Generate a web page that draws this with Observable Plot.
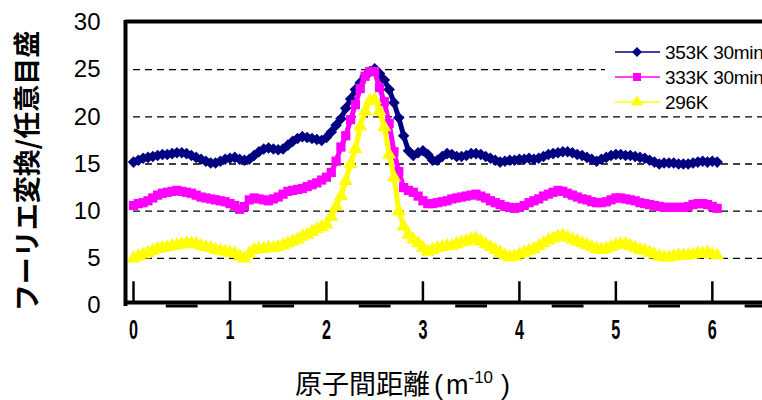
<!DOCTYPE html>
<html>
<head>
<meta charset="utf-8">
<script src="https://cdn.jsdelivr.net/npm/d3@7"></script>
<script src="https://cdn.jsdelivr.net/npm/@observablehq/plot@0.6"></script>
<style>
  html, body { margin: 0; padding: 0; background: white; }
  #chart { width: 762px; height: 400px; }
</style>
</head>
<body>
<div id="chart"></div>
<script>
// ---- data ----
const distance = [
  0.00,0.05,0.10,0.15,0.20,0.25,0.30,0.35,0.40,0.45,
  0.50,0.55,0.60,0.65,0.70,0.75,0.80,0.85,0.90,0.95,
  1.00,1.05,1.10,1.15,1.20,1.25,1.30,1.35,1.40,1.45,
  1.50,1.55,1.60,1.65,1.70,1.75,1.80,1.85,1.90,1.95,
  2.00,2.05,2.10,2.15,2.20,2.25,2.30,2.35,2.40,2.45,
  2.50,2.55,2.60,2.65,2.70,2.75,2.80,2.85,2.90,2.95,
  3.00,3.05,3.10,3.15,3.20,3.25,3.30,3.35,3.40,3.45,
  3.50,3.55,3.60,3.65,3.70,3.75,3.80,3.85,3.90,3.95,
  4.00,4.05,4.10,4.15,4.20,4.25,4.30,4.35,4.40,4.45,
  4.50,4.55,4.60,4.65,4.70,4.75,4.80,4.85,4.90,4.95,
  5.00,5.05,5.10,5.15,5.20,5.25,5.30,5.35,5.40,5.45,
  5.50,5.55,5.60,5.65,5.70,5.75,5.80,5.85,5.90,5.95,
  6.00,6.05
];
const s353K = [
  15.2,15.4,15.6,15.7,15.8,15.9,16.0,16.0,16.1,16.2,
  16.2,16.1,15.9,15.7,15.5,15.3,15.1,15.1,15.3,15.5,
  15.6,15.7,15.5,15.4,15.5,15.9,16.3,16.6,16.7,16.6,
  16.5,16.6,17.0,17.4,17.7,17.9,17.8,17.7,17.6,17.5,
  17.8,18.4,19.1,19.8,20.9,21.9,22.9,23.6,24.3,24.8,
  25.1,24.6,23.9,22.9,21.5,19.9,18.0,16.4,15.9,16.2,
  16.4,16.0,15.4,15.4,15.8,16.1,16.0,15.8,15.8,15.9,
  16.1,16.1,16.0,15.8,15.6,15.4,15.2,15.3,15.4,15.4,
  15.5,15.5,15.6,15.5,15.6,15.8,16.0,16.1,16.2,16.3,
  16.3,16.2,16.0,15.9,15.7,15.5,15.3,15.5,15.7,15.9,
  16.0,16.0,15.9,15.9,15.8,15.7,15.6,15.4,15.2,15.0,
  15.1,15.1,15.1,15.0,15.0,15.0,15.1,15.2,15.3,15.2,
  15.3,15.2
];
const s333K = [
  10.6,10.8,10.9,11.1,11.4,11.7,11.9,12.0,12.1,12.2,
  12.1,12.0,11.9,11.7,11.5,11.4,11.3,11.2,11.1,11.0,
  10.8,10.6,10.2,10.5,11.2,11.4,11.3,11.2,11.1,11.3,
  11.5,11.8,12.1,12.2,12.3,12.4,12.6,12.8,13.0,13.3,
  13.6,14.1,15.3,16.8,18.0,19.7,21.3,23.0,24.3,24.8,
  24.8,23.1,21.6,19.3,16.3,14.2,12.5,12.2,12.0,11.6,
  11.1,10.8,10.8,10.9,11.0,11.1,11.3,11.4,11.5,11.6,
  11.7,11.8,11.6,11.4,11.1,10.9,10.7,10.5,10.4,10.3,
  10.4,10.6,10.9,11.1,11.3,11.6,11.8,12.0,12.2,12.1,
  11.9,11.7,11.5,11.3,11.2,11.0,10.9,10.9,11.0,11.2,
  11.4,11.4,11.3,11.2,11.1,10.9,10.8,10.7,10.6,10.5,
  10.4,10.4,10.4,10.4,10.4,10.5,10.7,10.8,10.8,10.7,
  10.5,10.3
];
const s296K = [
  5.0,5.2,5.4,5.6,5.8,6.0,6.1,6.2,6.3,6.4,
  6.5,6.6,6.6,6.5,6.3,6.2,6.1,5.9,5.8,5.7,
  5.6,5.5,5.2,5.0,5.5,5.9,6.0,6.0,6.1,6.1,
  6.2,6.4,6.6,6.8,7.0,7.3,7.5,7.8,8.1,8.3,
  8.6,9.4,10.5,11.6,13.2,15.0,16.6,19.0,20.6,21.7,
  21.8,20.6,18.9,16.0,13.6,10.0,8.4,7.5,7.0,6.6,
  6.1,5.7,5.9,6.1,6.2,6.3,6.3,6.5,6.7,6.8,
  7.0,7.1,6.8,6.5,6.2,5.9,5.6,5.3,5.1,5.2,
  5.4,5.6,5.8,6.0,6.3,6.6,6.9,7.1,7.3,7.4,
  7.2,7.0,6.8,6.6,6.4,6.2,6.0,5.9,6.0,6.2,
  6.4,6.5,6.5,6.3,6.1,5.9,5.8,5.6,5.4,5.2,
  5.1,5.1,5.2,5.3,5.3,5.3,5.4,5.5,5.5,5.6,
  5.4,5.3
];
const seriesNames = ["353K 30min", "333K 30min", "296K"];
const seriesColors = ["#000080", "#FF00FF", "#FFFF00"];
const seriesSymbols = ["diamond2", "square", "triangle"];
const xTicks = [0, 1, 2, 3, 4, 5, 6];
const yTicks = [0, 5, 10, 15, 20, 25, 30];
const gridLines = [5, 10, 15, 20, 25];
const minorMarks = [0.5, 1.5, 2.5, 3.5, 4.5, 5.5, 6.5];
const xTitle = "原子間距離";
const yTitle = "フーリエ変換/任意目盛";

// ---- build table ----
const allSeries = [s353K, s333K, s296K];
const rows = allSeries.map((vals, i) =>
  vals.map((v, j) => ({x: distance[j], y: v, series: seriesNames[i]}))
);

const xMin = -0.083, xMax = 6.52;

const seriesMarks = [];
rows.forEach((r, i) => {
  seriesMarks.push(Plot.line(r, {x: "x", y: "y", stroke: seriesColors[i], strokeWidth: 5}));
  seriesMarks.push(Plot.dot(r, {x: "x", y: "y", symbol: seriesSymbols[i], fill: seriesColors[i], r: 5.2}));
});

const chart = Plot.plot({
  width: 762,
  height: 400,
  marginLeft: 125,
  marginRight: 0,
  marginTop: 22,
  marginBottom: 95,
  style: {background: "white", fontFamily: "'Liberation Sans', Arial, sans-serif", color: "black"},
  x: {domain: [xMin, xMax], axis: null},
  y: {domain: [0, 30], axis: null},
  marks: [
    Plot.ruleY(gridLines, {x1: 0, x2: xMax, stroke: "black", strokeWidth: 1.4, strokeDasharray: "7,5"}),
    ...seriesMarks,
    Plot.ruleX(xTicks, {y1: 0, y2: 2.2, stroke: "black", strokeWidth: 2.5, dy: -3}),
    Plot.ruleY([0], {stroke: "black", strokeWidth: 4, dy: -3}),
    Plot.ruleY(minorMarks, {y: 0, x1: d => d - 0.16, x2: d => d + 0.17, stroke: "black", strokeWidth: 3, dy: 0.5}),
    Plot.ruleY([30], {stroke: "black", strokeWidth: 4, dy: -1}),
    Plot.ruleX([xMin], {stroke: "black", strokeWidth: 4, y1: -0.1, y2: 30.2}),
    Plot.axisX(xTicks, {tickSize: 0, tickPadding: 14, fontSize: 27, fontWeight: "bold", label: null}),
    Plot.axisY(yTicks, {tickSize: 0, tickPadding: 25, fontSize: 24, label: null})
  ]
});

document.getElementById("chart").appendChild(chart);

const svg = d3.select(chart);

// condensed x tick labels
svg.selectAll('g[aria-label="x-axis tick label"] text').each(function() {
  const t = this.getAttribute("transform");
  if (t) {
    this.setAttribute("transform", t + " scale(0.6,1)");
  } else {
    const x = this.getAttribute("x") || 0, y = this.getAttribute("y") || 0;
    this.removeAttribute("x"); this.removeAttribute("y");
    this.setAttribute("transform", `translate(${x},${y}) scale(0.6,1)`);
  }
});

// legend
const lg = svg.append("g").attr("text-anchor", "start");
lg.append("rect").attr("x", 605).attr("y", 38).attr("width", 157).attr("height", 74).attr("fill", "white");
const symbolTypes = [d3.symbolDiamond2, d3.symbolSquare, d3.symbolTriangle];
seriesNames.forEach((name, i) => {
  const cy = 52 + i * 25;
  lg.append("line").attr("x1", 615).attr("x2", 660).attr("y1", cy).attr("y2", cy)
    .attr("stroke", seriesColors[i]).attr("stroke-width", 1.6);
  lg.append("path").attr("d", d3.symbol(symbolTypes[i], 64)())
    .attr("transform", `translate(637,${cy})`).attr("fill", seriesColors[i]);
  lg.append("text").attr("x", 665).attr("y", cy + 6.5).text(name)
    .attr("text-anchor", "start")
    .attr("font-size", 19).attr("fill", "black")
    .attr("letter-spacing", -0.3)
    .attr("font-family", "'Liberation Sans', Arial, sans-serif");
});

// y title
svg.append("text")
  .attr("transform", "translate(25,171) rotate(-90)")
  .attr("text-anchor", "middle")
  .attr("dominant-baseline", "central")
  .attr("font-family", "'Noto Sans CJK JP', sans-serif")
  .attr("font-weight", "bold")
  .attr("font-size", 27)
  .attr("fill", "black")
  .text(yTitle);

// x title
const xt = svg.append("text")
  .attr("x", 295).attr("y", 394)
  .attr("text-anchor", "start")
  .attr("fill", "black")
  .attr("font-size", 27);
xt.append("tspan").attr("font-family", "'Noto Sans CJK JP', sans-serif").text(xTitle);
xt.append("tspan").attr("dx", 4).attr("font-family", "'Liberation Sans', Arial, sans-serif").text("(");
xt.append("tspan").attr("dx", 3).attr("font-family", "'Liberation Sans', Arial, sans-serif").text("m");
xt.append("tspan").attr("dy", -11).attr("font-size", 17).attr("font-family", "'Liberation Sans', Arial, sans-serif").text("-10");
xt.append("tspan").attr("dx", 8).attr("dy", 11).attr("font-family", "'Liberation Sans', Arial, sans-serif").text(")");
</script>
</body>
</html>
